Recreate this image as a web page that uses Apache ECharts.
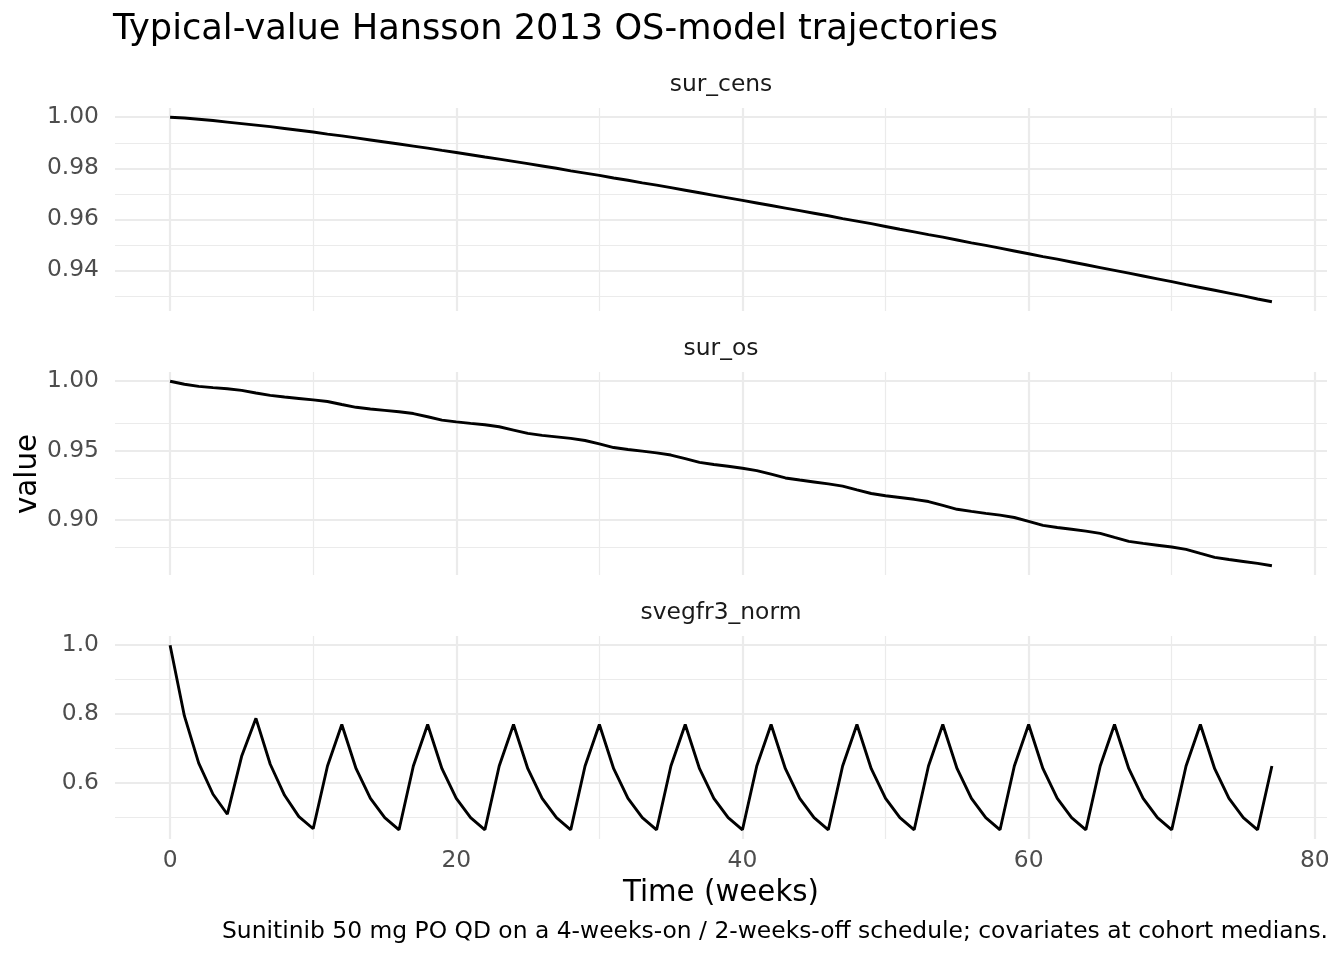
<!DOCTYPE html>
<html>
<head>
<meta charset="utf-8">
<title>Typical-value Hansson 2013 OS-model trajectories</title>
<script src="https://cdn.jsdelivr.net/npm/echarts@6/dist/echarts.min.js"></script>
<style>
	html, body { margin: 0; padding: 0; background: #ffffff; }
	#chart { width: 1344px; height: 960px; }
</style>
</head>
<body>
<div id="chart"></div>
<script>
// weeks since start of treatment
var weeks = [0, 1, 2, 3, 4, 5, 6, 7, 8, 9,
	10, 11, 12, 13, 14, 15, 16, 17, 18, 19,
	20, 21, 22, 23, 24, 25, 26, 27, 28, 29,
	30, 31, 32, 33, 34, 35, 36, 37, 38, 39,
	40, 41, 42, 43, 44, 45, 46, 47, 48, 49,
	50, 51, 52, 53, 54, 55, 56, 57, 58, 59,
	60, 61, 62, 63, 64, 65, 66, 67, 68, 69,
	70, 71, 72, 73, 74, 75, 76, 77];

// panel names (facet strips)
var panels = ['sur_cens', 'sur_os', 'svegfr3_norm'];

var surCens = [1.0000, 0.9997, 0.9992, 0.9987, 0.9981, 0.9975, 0.9969, 0.9963, 0.9956, 0.9949,
	0.9942, 0.9934, 0.9927, 0.9919, 0.9911, 0.9903, 0.9895, 0.9887, 0.9879, 0.9870,
	0.9862, 0.9853, 0.9844, 0.9836, 0.9827, 0.9818, 0.9809, 0.9800, 0.9790, 0.9781,
	0.9772, 0.9762, 0.9753, 0.9743, 0.9734, 0.9724, 0.9714, 0.9704, 0.9694, 0.9684,
	0.9674, 0.9664, 0.9654, 0.9644, 0.9634, 0.9624, 0.9614, 0.9603, 0.9593, 0.9583,
	0.9572, 0.9561, 0.9551, 0.9540, 0.9530, 0.9519, 0.9508, 0.9498, 0.9487, 0.9476,
	0.9465, 0.9454, 0.9444, 0.9433, 0.9422, 0.9411, 0.9400, 0.9389, 0.9378, 0.9367,
	0.9356, 0.9344, 0.9333, 0.9322, 0.9311, 0.9300, 0.9288, 0.9277];

var surOs = [1.0000, 0.9978, 0.9963, 0.9954, 0.9946, 0.9934, 0.9915, 0.9898, 0.9886, 0.9876,
	0.9866, 0.9854, 0.9832, 0.9812, 0.9800, 0.9790, 0.9780, 0.9767, 0.9744, 0.9720,
	0.9707, 0.9696, 0.9686, 0.9672, 0.9648, 0.9624, 0.9610, 0.9599, 0.9588, 0.9573,
	0.9548, 0.9522, 0.9508, 0.9496, 0.9484, 0.9468, 0.9442, 0.9415, 0.9400, 0.9387,
	0.9373, 0.9356, 0.9330, 0.9303, 0.9288, 0.9274, 0.9260, 0.9244, 0.9217, 0.9191,
	0.9175, 0.9162, 0.9149, 0.9133, 0.9105, 0.9077, 0.9062, 0.9048, 0.9035, 0.9018,
	0.8990, 0.8961, 0.8946, 0.8933, 0.8920, 0.8903, 0.8874, 0.8846, 0.8831, 0.8818,
	0.8805, 0.8788, 0.8759, 0.8731, 0.8715, 0.8701, 0.8687, 0.8670];

var svegfr3 = [1.000, 0.795, 0.658, 0.568, 0.510, 0.678,
	0.788, 0.655, 0.565, 0.503, 0.468, 0.650,
	0.770, 0.642, 0.556, 0.500, 0.465, 0.650,
	0.770, 0.642, 0.556, 0.500, 0.465, 0.650,
	0.770, 0.642, 0.556, 0.500, 0.465, 0.650,
	0.770, 0.642, 0.556, 0.500, 0.465, 0.650,
	0.770, 0.642, 0.556, 0.500, 0.465, 0.650,
	0.770, 0.642, 0.556, 0.500, 0.465, 0.650,
	0.770, 0.642, 0.556, 0.500, 0.465, 0.650,
	0.770, 0.642, 0.556, 0.500, 0.465, 0.650,
	0.770, 0.642, 0.556, 0.500, 0.465, 0.650,
	0.770, 0.642, 0.556, 0.500, 0.465, 0.650,
	0.770, 0.642, 0.556, 0.500, 0.465, 0.650];

// tick labels
var xTicks = [0, 20, 40, 60, 80];
var xMinor = [10, 30, 50, 70];
var yTicks = [[0.94, 0.96, 0.98, 1.00], [0.90, 0.95, 1.00], [0.6, 0.8, 1.0]];
var yMinor = [[0.93, 0.95, 0.97, 0.99], [0.875, 0.925, 0.975], [0.5, 0.7, 0.9]];
var yDigits = [2, 2, 1];

var values = [surCens, surOs, svegfr3];

// ggplot-like 5% expansion of the data range
function expand(arr) {
	var lo = Math.min.apply(null, arr), hi = Math.max.apply(null, arr);
	var pad = (hi - lo) * 0.05;
	return [lo - pad, hi + pad];
}

var FONT = 'DejaVu Sans';
var SMALL = 23.4;   // tick labels, strips, caption
var panelTop = [108, 372, 636];
var panelH = 203;
var grids = [], xAxes = [], yAxes = [], series = [], graphics = [];

for (var i = 0; i < 3; i++) {
	var yr = expand(values[i]);
	var xr = expand(weeks);
	var last = (i === 2);
	grids.push({ left: 115, top: panelTop[i], width: 1212, height: panelH });
	xAxes.push({
		type: 'value', gridIndex: i, min: xr[0], max: xr[1],
		axisLine: { show: false }, axisTick: { show: false }, splitLine: { show: false },
		axisLabel: {
			show: last, customValues: xTicks, margin: 10,
			color: '#4d4d4d', fontSize: SMALL, fontFamily: FONT
		},
		name: last ? 'Time (weeks)' : '', nameLocation: 'middle', nameGap: 40,
		nameTextStyle: { color: '#000', fontSize: 29.3, fontFamily: FONT }
	});
	yAxes.push({
		type: 'value', gridIndex: i, min: yr[0], max: yr[1],
		axisLine: { show: false }, axisTick: { show: false }, splitLine: { show: false },
		axisLabel: {
			customValues: yTicks[i], margin: 16,
			color: '#4d4d4d', fontSize: SMALL, fontFamily: FONT,
			formatter: (function (d) { return function (v) { return v.toFixed(d); }; })(yDigits[i])
		}
	});

	// grid lines drawn as mark lines
	var gl = [];
	xTicks.forEach(function (v) { gl.push({ xAxis: v, lineStyle: { width: 2.2 } }); });
	xMinor.forEach(function (v) { gl.push({ xAxis: v, lineStyle: { width: 1.2 } }); });
	yTicks[i].forEach(function (v) { gl.push({ yAxis: v, lineStyle: { width: 2.2 } }); });
	yMinor[i].forEach(function (v) { gl.push({ yAxis: v, lineStyle: { width: 1.2 } }); });

	series.push({
		type: 'line', xAxisIndex: i, yAxisIndex: i, data: [], z: 1,
		silent: true, animation: false,
		markLine: {
			z: 1, silent: true, animation: false, symbol: ['none', 'none'],
			label: { show: false }, emphasis: { disabled: true },
			lineStyle: { color: '#ebebeb', type: 'solid' },
			data: gl
		}
	});
	series.push({
		name: panels[i], type: 'line', xAxisIndex: i, yAxisIndex: i, z: 10,
		showSymbol: false, symbol: 'none', animation: false,
		lineStyle: { color: '#000000', width: 2.9 },
		data: weeks.map(function (w, k) { return [w, values[i][k]]; })
	});

	graphics.push({
		type: 'text', x: 721, y: panelTop[i] - 23,
		style: {
			text: panels[i], fill: '#1a1a1a', font: SMALL + 'px "' + FONT + '"',
			align: 'center', verticalAlign: 'middle', textAlign: 'center', textVerticalAlign: 'middle'
		}
	});
}

graphics.push({
	type: 'text', x: 113, y: 30,
	style: {
		text: 'Typical-value Hansson 2013 OS-model trajectories', fill: '#000',
		font: '35.2px "' + FONT + '"', align: 'left', verticalAlign: 'middle',
		textAlign: 'left', textVerticalAlign: 'middle'
	}
});
graphics.push({
	type: 'text', x: 28, y: 474, rotation: Math.PI / 2,
	style: {
		text: 'value', fill: '#000', font: '29.3px "' + FONT + '"',
		align: 'center', verticalAlign: 'middle', textAlign: 'center', textVerticalAlign: 'middle'
	}
});
graphics.push({
	type: 'text', x: 1328, y: 932,
	style: {
		text: 'Sunitinib 50 mg PO QD on a 4-weeks-on / 2-weeks-off schedule; covariates at cohort medians.',
		fill: '#000', font: SMALL + 'px "' + FONT + '"', align: 'right', verticalAlign: 'middle',
		textAlign: 'right', textVerticalAlign: 'middle'
	}
});

var chart = echarts.init(document.getElementById('chart'));
chart.setOption({
	backgroundColor: '#ffffff',
	animation: false,
	textStyle: { fontFamily: FONT },
	grid: grids,
	xAxis: xAxes,
	yAxis: yAxes,
	series: series,
	graphic: graphics
});
</script>
</body>
</html>
